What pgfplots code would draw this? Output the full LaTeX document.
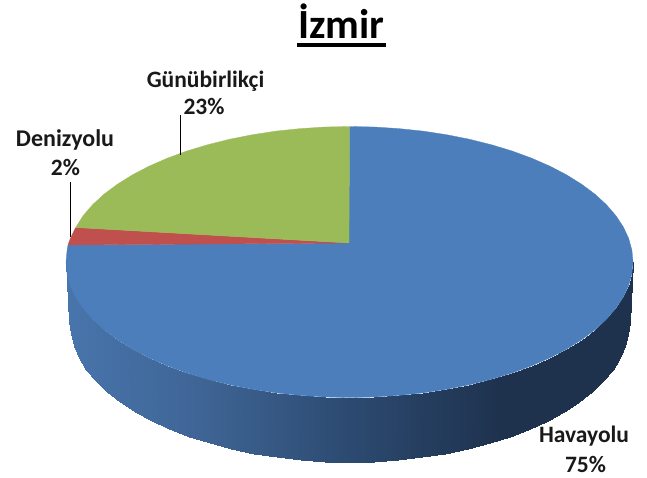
\documentclass[border=0pt]{standalone}
\usepackage{pgfplots}
\pgfplotsset{compat=1.18}
\usepackage{fontspec}
\setmainfont{Carlito}
\definecolor{havayolu}{RGB}{76,126,187}
\definecolor{deniz}{RGB}{192,80,77}
\definecolor{gunu}{RGB}{155,187,89}
\begin{document}
\begin{tikzpicture}
\useasboundingbox (0,0) rectangle (647pt,477pt);
\begin{axis}[
  at={(0,0)}, anchor=south west,
  scale only axis, width=647pt, height=477pt,
  xmin=0, xmax=647, ymin=0, ymax=477, y dir=reverse,
  hide axis, clip=false,
  colormap={wall}{rgb255(0pt)=(72,117,172); rgb255(140pt)=(62,100,148); rgb255(284pt)=(44,74,112); rgb255(434pt)=(30,50,78); rgb255(567pt)=(30,50,78)},
  point meta min=66, point meta max=633,
]
% side wall of the 75% slice
\addplot[surf, shader=interp, mesh/rows=2, mesh/cols=37, point meta=x] coordinates {
(633,262) (631.9,273.8) (628.7,285.5) (623.3,297.1) (615.9,308.3) (606.4,319.3) (595,329.8) (581.7,339.7) (566.7,349.1) (550,357.8) (531.7,365.8) (512.1,373) (491.3,379.3) (469.3,384.8) (446.5,389.3) (422.9,392.9) (398.7,395.4) (374.2,397) (349.5,397.5) (324.8,397) (300.3,395.4) (276.1,392.9) (252.5,389.3) (229.7,384.8) (207.7,379.3) (186.9,373) (167.3,365.8) (149,357.8) (132.3,349.1) (117.3,339.7) (104,329.8) (92.6,319.3) (83.1,308.3) (75.7,297.1) (70.3,285.5) (67.1,273.8) (66,262)
(629.5,322) (628.4,334.2) (625.2,346.3) (620,358.2) (612.6,369.9) (603.3,381.2) (592,392) (578.9,402.3) (564,412) (547.5,421) (529.5,429.2) (510.1,436.7) (489.5,443.2) (467.8,448.9) (445.3,453.6) (422,457.2) (398.1,459.9) (373.9,461.5) (349.5,462) (325.1,461.5) (300.9,459.9) (277,457.2) (253.7,453.6) (231.2,448.9) (209.5,443.2) (188.9,436.7) (169.5,429.2) (151.5,421) (135,412) (120.1,402.3) (107,392) (95.7,381.2) (86.4,369.9) (79,358.2) (73.8,346.3) (70.6,334.2) (69.5,322)
};
% top face: Havayolu 75%
\addplot[draw=havayolu, line width=0.3pt, fill=havayolu] coordinates {
(349,243) (349.5,126.5) (374.2,127) (398.7,128.6) (422.9,131.1) (446.5,134.7) (469.3,139.2) (491.3,144.7) (512.1,151) (531.7,158.2) (550,166.2) (566.7,174.9) (581.7,184.3) (595,194.2) (606.4,204.7) (615.9,215.7) (623.3,226.9) (628.7,238.5) (631.9,250.2) (633,262)
(631.9,273.8) (628.7,285.5) (623.3,297.1) (615.9,308.3) (606.4,319.3) (595,329.8) (581.7,339.7) (566.7,349.1) (550,357.8) (531.7,365.8) (512.1,373) (491.3,379.3) (469.3,384.8) (446.5,389.3) (422.9,392.9) (398.7,395.4) (374.2,397) (349.5,397.5) (324.8,397) (300.3,395.4) (276.1,392.9) (252.5,389.3) (229.7,384.8) (207.7,379.3) (186.9,373) (167.3,365.8) (149,357.8) (132.3,349.1) (117.3,339.7) (104,329.8) (92.6,319.3) (83.1,308.3) (75.7,297.1) (70.3,285.5) (67.1,273.8) (66,262) (67.1,250.2) (68,245) (349,243)
};
% Denizyolu 2%
\addplot[draw=deniz, line width=0.3pt, fill=deniz] coordinates {
(349,243) (68,245) (70.3,238.5) (75.7,227.5) (349,243)
};
% Günübirlikçi 23%
\addplot[draw=gunu, line width=0.3pt, fill=gunu] coordinates {
(349,243) (75.7,227.5) (83.1,215.7) (92.6,204.7) (104,194.2) (117.3,184.3) (132.3,174.9) (149,166.2) (167.3,158.2) (186.9,151) (207.7,144.7) (229.7,139.2) (252.5,134.7) (276.1,131.1) (300.3,128.6) (324.8,127) (349.5,126.5) (349,243)
};
% leader lines
\addplot[black, line width=1.3pt] coordinates {(180.5,115) (180.5,155)};
\addplot[black, line width=1.3pt] coordinates {(70.5,182) (70.5,237)};
% title underline
\addplot[black, line width=4pt] coordinates {(297,44.7) (386,44.7)};
\node[font=\fontsize{41.5}{41.5}\selectfont\bfseries, anchor=base, inner sep=0pt] at (axis cs:341.5,38) {İzmir};
\node[font=\fontsize{23.5}{23.5}\selectfont\bfseries, anchor=base, inner sep=0pt, text=black!90] at (axis cs:205.5,87) {Günübirlikçi};
\node[font=\fontsize{23.5}{23.5}\selectfont\bfseries, anchor=base, inner sep=0pt, text=black!90] at (axis cs:204,114) {23\%};
\node[font=\fontsize{24}{24}\selectfont\bfseries, anchor=base, inner sep=0pt, text=black!90] at (axis cs:65,146) {Denizyolu};
\node[font=\fontsize{23.5}{23.5}\selectfont\bfseries, anchor=base, inner sep=0pt, text=black!90] at (axis cs:65.5,175) {2\%};
\node[font=\fontsize{23.5}{23.5}\selectfont\bfseries, anchor=base, inner sep=0pt, text=black!90] at (axis cs:584,442) {Havayolu};
\node[font=\fontsize{23.5}{23.5}\selectfont\bfseries, anchor=base, inner sep=0pt, text=black!90] at (axis cs:585.5,472) {75\%};
\end{axis}
\end{tikzpicture}
\end{document}
